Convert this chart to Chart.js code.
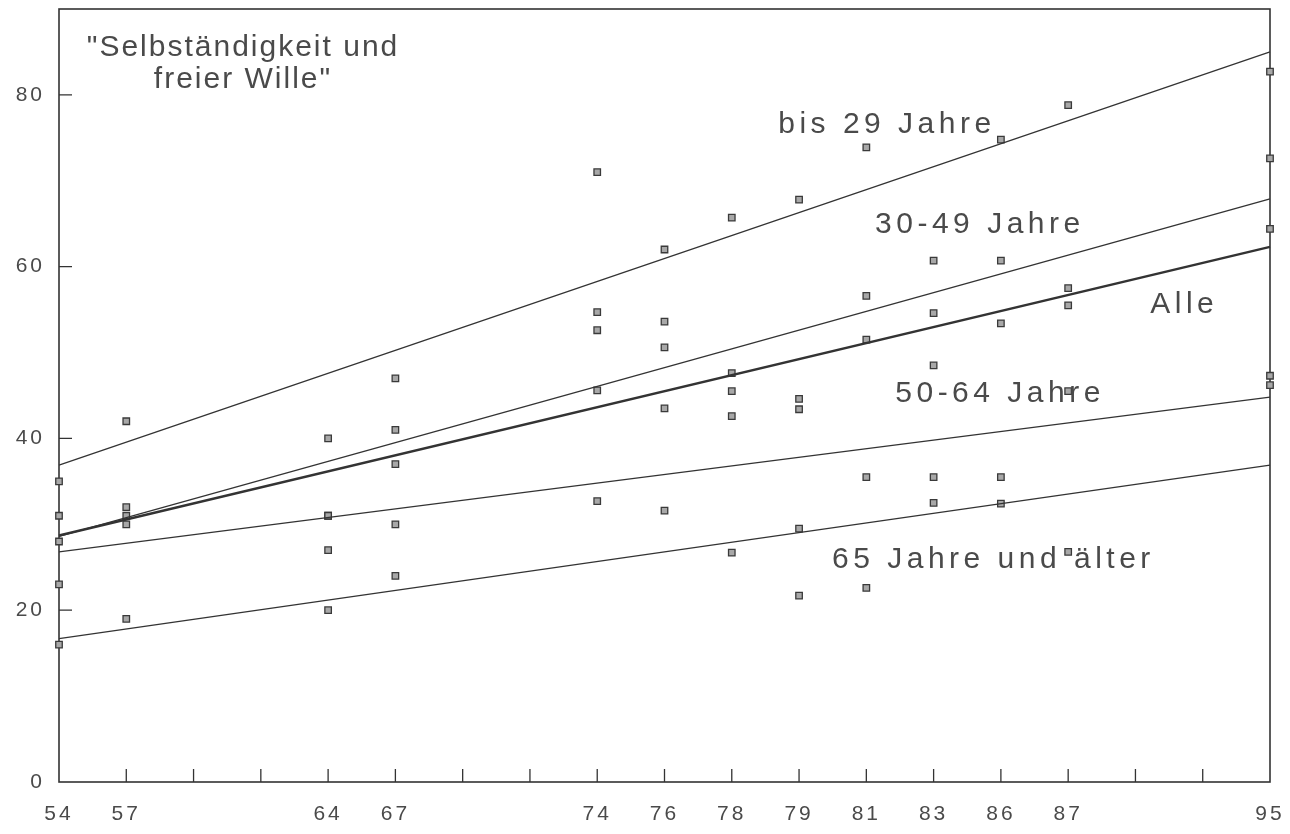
<!DOCTYPE html>
<html>
<head>
<meta charset="utf-8">
<script src="https://cdn.jsdelivr.net/npm/chart.js@4.4.1/dist/chart.umd.min.js"></script>
<style>
  html, body { margin: 0; padding: 0; background: #fff; }
</style>
</head>
<body>
<canvas id="chart" width="1290" height="834"></canvas>
<script>
// x slots: the survey years sit on an evenly spaced slot axis, blanks are empty slots
const xSlots = ['54', '57', '', '', '64', '67', '', '', '74', '76', '78', '79', '81', '83', '86', '87', '', '', '95'];
const years = ['54', '57', '64', '67', '74', '76', '78', '79', '81', '83', '86', '87', '95'];

// observed shares (%) per age group
const bis29   = [35, 42, 40, 47, 71, 62, 65.7, 67.8, 73.9, 60.7, 74.8, 78.8, 82.7];
const j30bis49 = [31, 32, 31, 41, 54.7, 53.6, 47.6, 44.6, 56.6, 54.6, 60.7, 57.5, 72.6];
const alle    = [28, 31, 31, 37, 52.6, 50.6, 45.5, 43.4, 51.5, 48.5, 53.4, 55.5, 64.4];
const j50bis64 = [23, 30, 27, 30, 45.6, 43.5, 42.6, 29.5, 35.5, 35.5, 35.5, 45.5, 47.3];
const ab65    = [16, 19, 20, 24, 32.7, 31.6, 26.7, 21.7, 22.6, 32.5, 32.4, 26.8, 46.2];

// trend lines: value at 54 and at 95
const groupNames = ['bis 29 Jahre', '30-49 Jahre', 'Alle', '50-64 Jahre', '65 Jahre und älter'];
const trendStart = [36.9, 28.6, 28.7, 26.8, 16.7];
const trendEnd   = [85.0, 67.9, 62.3, 44.8, 36.9];

const titleLines = ['"Selbständigkeit und', 'freier Wille"'];

const INK = '#333';
const TEXT = '#4a4a4a';

// where the text labels go (slot index, value of baseline)
const labelAnchors = [
    { slot: 10.69, value: 75.6 },
    { slot: 12.13, value: 63.9 },
    { slot: 16.22, value: 54.6 },
    { slot: 12.43, value: 44.2 },
    { slot: 11.49, value: 24.9 }
];
const titleAnchor = { slot: 2.735, values: [84.5, 80.8] };

const pointSets = [bis29, j30bis49, alle, j50bis64, ab65].map(vals => ({
    data: years.map((yr, i) => ({ x: yr, y: vals[i] })),
    showLine: false,
    pointStyle: 'rect',
    pointRadius: 4.6,
    pointBackgroundColor: '#a8a8a8',
    pointBorderColor: '#3a3a3a',
    pointBorderWidth: 1.3
}));

const trendSets = groupNames.map((name, i) => ({
    label: name,
    data: [{ x: '54', y: trendStart[i] }, { x: '95', y: trendEnd[i] }],
    borderColor: INK,
    borderWidth: name === 'Alle' ? 2.4 : 1.3,
    pointRadius: 0,
    fill: false
}));

const frameTicks = {
    id: 'frameTicks',
    beforeDraw(chart) {
        chart.ctx.letterSpacing = '3px';
    },
    beforeDatasetsDraw(chart) {
        const { ctx, chartArea: a, scales } = chart;
        ctx.save();
        ctx.strokeStyle = INK;
        ctx.lineWidth = 1.6;
        ctx.strokeRect(a.left, a.top, a.right - a.left, a.bottom - a.top);

        // short ticks pointing inward
        ctx.lineWidth = 1.3;
        ctx.beginPath();
        for (let i = 1; i < xSlots.length - 1; i++) {
            const px = scales.x.getPixelForValue(i);
            ctx.moveTo(px, a.bottom);
            ctx.lineTo(px, a.bottom - 13);
        }
        scales.y.ticks.forEach(t => {
            if (t.value <= 0) return;
            const py = scales.y.getPixelForValue(t.value);
            ctx.moveTo(a.left, py);
            ctx.lineTo(a.left + 13, py);
        });
        ctx.stroke();
        ctx.restore();
    },
    afterDatasetsDraw(chart) {
        const { ctx, scales } = chart;
        ctx.save();
        ctx.fillStyle = TEXT;
        ctx.font = '30px "Liberation Sans", Arial, sans-serif';
        ctx.textBaseline = 'alphabetic';

        ctx.letterSpacing = '2px';
        ctx.textAlign = 'center';
        titleLines.forEach((line, i) => {
            ctx.fillText(line,
                scales.x.getPixelForValue(titleAnchor.slot),
                scales.y.getPixelForValue(titleAnchor.values[i]));
        });

        ctx.letterSpacing = '4.5px';
        ctx.textAlign = 'left';
        groupNames.forEach((name, i) => {
            ctx.fillText(name,
                scales.x.getPixelForValue(labelAnchors[i].slot),
                scales.y.getPixelForValue(labelAnchors[i].value));
        });
        ctx.restore();
    }
};

new Chart(document.getElementById('chart'), {
    type: 'line',
    data: {
        labels: xSlots,
        datasets: [...trendSets, ...pointSets]
    },
    options: {
        responsive: false,
        animation: false,
        layout: { padding: { top: 9, right: 20, left: 0, bottom: 0 } },
        plugins: {
            legend: { display: false },
            tooltip: { enabled: false }
        },
        scales: {
            x: {
                type: 'category',
                offset: false,
                grid: { display: false, drawTicks: false },
                border: { display: false },
                ticks: {
                    autoSkip: false,
                    maxRotation: 0,
                    padding: 20,
                    color: TEXT,
                    font: { family: '"Liberation Sans", Arial, sans-serif', size: 21 }
                },
                afterFit(scale) {
                    scale.height = 52;
                    scale.paddingLeft = 0;
                    scale.paddingRight = 0;
                }
            },
            y: {
                min: 0,
                max: 90,
                grid: { display: false, drawTicks: false },
                border: { display: false },
                ticks: {
                    stepSize: 20,
                    padding: 14,
                    color: TEXT,
                    font: { family: '"Liberation Sans", Arial, sans-serif', size: 21 }
                },
                afterBuildTicks(scale) {
                    scale.ticks = scale.ticks.filter(t => t.value % 20 === 0);
                },
                afterFit(scale) {
                    scale.width = 59;
                    scale.paddingTop = 0;
                    scale.paddingBottom = 0;
                }
            }
        }
    },
    plugins: [frameTicks]
});
</script>
</body>
</html>
